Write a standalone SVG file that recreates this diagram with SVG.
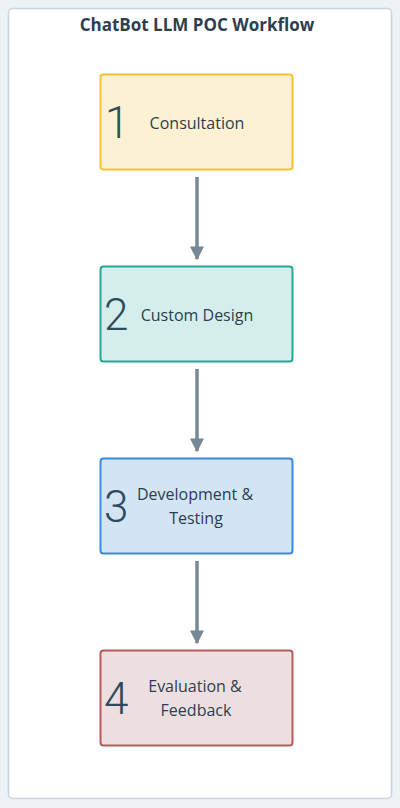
<svg xmlns="http://www.w3.org/2000/svg" width="400" height="808" viewBox="0 0 400 808">
<style>
.t{font-family:"Open Sans","Liberation Sans",sans-serif;font-size:16px;fill:#2c3e50;text-anchor:middle}
.n{font-family:"Roboto","Liberation Sans",sans-serif;font-size:44px;font-weight:300;fill:#2f4a5c}
.c{stroke:#788896;stroke-width:3.5;fill:none}
</style>
<defs>
<marker id="ah" viewBox="0 0 10 10" refX="9" refY="5" markerWidth="4" markerHeight="4" orient="auto" markerUnits="strokeWidth">
<path d="M0,0 L10,5 L0,10 z" fill="#788896"/>
</marker>
</defs>
<rect x="0" y="0" width="400" height="808" fill="#eef2f6"/>
<rect x="8.5" y="8.5" width="383" height="790" rx="4" fill="#ffffff" stroke="#c8d4df" stroke-width="1.5"/>
<text x="197" y="31" font-family="'Open Sans','Liberation Sans',sans-serif" font-size="17" font-weight="bold" fill="#2c3e50" text-anchor="middle">ChatBot LLM POC Workflow</text>
<g id="connectors">
<line class="c" x1="197" y1="177" x2="197" y2="259" marker-end="url(#ah)"/>
<line class="c" x1="197" y1="369" x2="197" y2="451" marker-end="url(#ah)"/>
<line class="c" x1="197" y1="561" x2="197" y2="643" marker-end="url(#ah)"/>
</g>
<g id="node1">
<rect x="100.5" y="74.5" width="192" height="95" rx="3" fill="#fdf1d3" stroke="#f5c230" stroke-width="2"/>
<text class="n" x="105" y="138">1</text>
<text class="t" x="197" y="129">Consultation</text>
</g>
<g id="node2">
<rect x="100.5" y="266.5" width="192" height="95" rx="3" fill="#d3eeeb" stroke="#26a69a" stroke-width="2"/>
<text class="n" x="104" y="330">2</text>
<text class="t" x="197" y="321">Custom Design</text>
</g>
<g id="node3">
<rect x="100.5" y="458.5" width="192" height="95" rx="3" fill="#d3e4f5" stroke="#3d8ad8" stroke-width="2"/>
<text class="n" x="104" y="522">3</text>
<text class="t" x="195" y="500">Development &amp;</text>
<text class="t" x="196" y="524">Testing</text>
</g>
<g id="node4">
<rect x="100.5" y="650.5" width="192" height="95" rx="3" fill="#eddfe0" stroke="#b55c5c" stroke-width="2"/>
<text class="n" x="104" y="714">4</text>
<text class="t" x="195" y="692">Evaluation &amp;</text>
<text class="t" x="196" y="716">Feedback</text>
</g>
</svg>
